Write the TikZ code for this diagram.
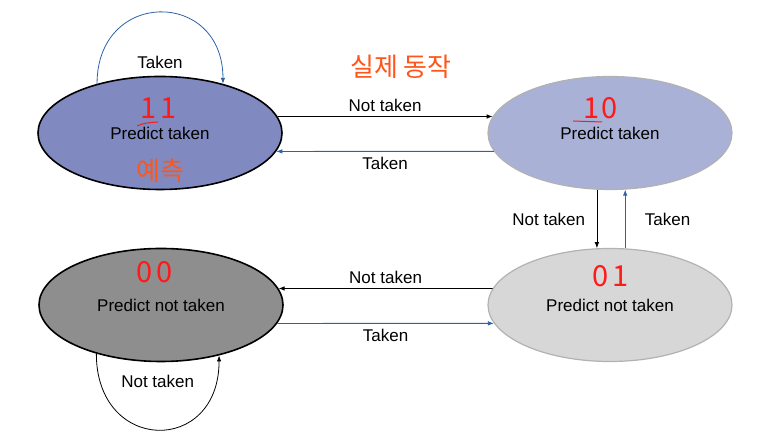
\documentclass[tikz,border=0pt]{standalone}
\usepackage{fontspec}
\setmainfont{Liberation Sans}
\newfontfamily\krfont{Noto Sans CJK KR}
\usetikzlibrary{shapes.geometric,arrows.meta}

\definecolor{takenblue}{RGB}{46,98,166}
\definecolor{ptdark}{RGB}{128,138,192}
\definecolor{ptlight}{RGB}{170,177,214}
\definecolor{pntdark}{RGB}{142,142,142}
\definecolor{pntlight}{RGB}{215,215,215}
\definecolor{memored}{RGB}{255,25,25}
\definecolor{memoorange}{RGB}{255,85,25}

\begin{document}
\begin{tikzpicture}[x=1pt, y=1pt, font=\fontsize{17}{20}\selectfont,
    state/.style={ellipse, draw, minimum width=244pt, minimum height=113pt, inner sep=0pt},
    strong/.style={line width=1.6pt, draw=black},
    weak/.style={line width=1.2pt, draw=black!30},
    edge/.style={-{Latex[length=6pt,width=4.5pt]}, line width=0.8pt},
    lbl/.style={text=black},
    memo/.style={text=memored, font=\krfont\fontsize{29}{30}\selectfont},
    memokr/.style={text=memoorange, font=\krfont\fontsize{26}{30}\selectfont}]
    \useasboundingbox (0,0) rectangle (764,443);

    \node[state, strong, fill=ptdark] (st11) at (160, 310) {Predict taken};
    \node[state, weak, fill=ptlight] (st10) at (610, 310) {Predict taken};
    \node[state, strong, fill=pntdark] (st00) at (161, 138) {Predict not taken};
    \node[state, weak, fill=pntlight] (st01) at (610, 138) {Predict not taken};

    % edges
    \draw[edge, takenblue] (st11.142) .. controls +(0,95) and +(0,95) .. node[lbl, below=40pt] {Taken} (st11.38);
    \draw[edge] (st11.8) -- node[lbl, above=1pt] {Not taken} (st10.172);
    \draw[edge, takenblue] (st10.189) -- node[lbl, below=2pt] {Taken} (st11.351);
    \draw[edge] (st10.257) -- node[lbl, left=8pt] {Not taken} (st01.103);
    \draw[edge, takenblue] (st01.75) -- node[lbl, right=16pt] {Taken} (st10.285);
    \draw[edge] (st01.172) -- node[lbl, above=1pt] {Not taken} (st00.8);
    \draw[edge, takenblue] (st00.351) -- node[lbl, below=2pt] {Taken} (st01.189);
    \draw[edge] (st00.217) .. controls +(0,-100) and +(0,-100) .. node[lbl, above=38pt] {Not taken} (st00.319);

    % handwritten notes
    \node[memo] (m11) at (159, 335) {1\hspace{4pt}1};
    \node[memo] (m10) at (601, 335) {1\hspace{2pt}0};
    \node[memo] (m00) at (155, 171) {0\hspace{4pt}0};
    \node[memo] (m01) at (611, 167) {0\hspace{4pt}1};
    \node[memokr] (act) at (401, 376) {실제 동작};
    \node[memokr] (pred) at (160, 272) {예측};
    \draw[memored, line width=1pt] (137, 317) .. controls (145, 320) .. (158, 321);
    \draw[memored, line width=1pt] (573, 322) -- (602, 321);
\end{tikzpicture}
\end{document}
